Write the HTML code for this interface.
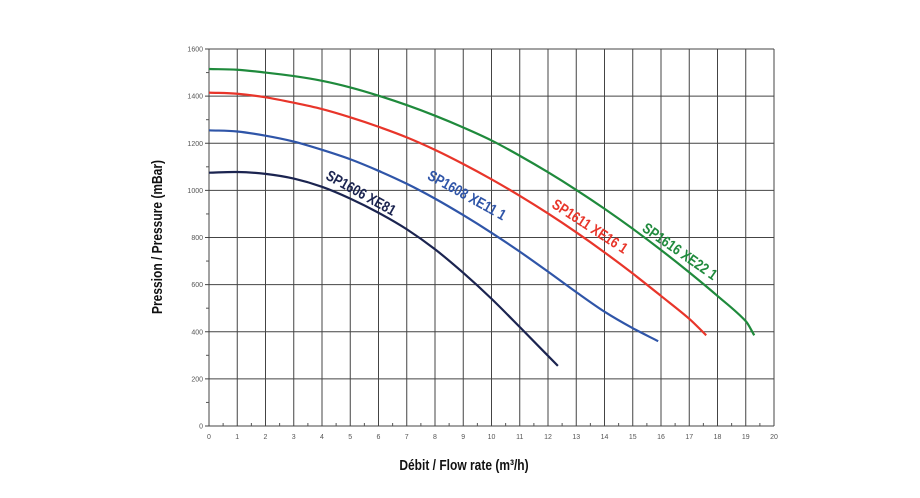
<!DOCTYPE html>
<html><head><meta charset="utf-8"><style>
html,body{margin:0;padding:0;background:#fff;}
svg{display:block;font-family:"Liberation Sans",sans-serif;}
</style></head><body>
<svg id="chart" width="920" height="498">
<g id="grid"></g>
<g id="xaxis"></g>
<g id="yaxis"></g>
<g id="series"></g>
<text x="464" y="470" text-anchor="middle" font-size="15" font-weight="bold" fill="#111" transform="translate(464 0) scale(0.8 1) translate(-464 0)">Débit / Flow rate (m³/h)</text>
<text x="0" y="0" text-anchor="middle" font-size="15" font-weight="bold" fill="#111" transform="translate(162 237) rotate(-90) scale(0.8 1)">Pression / Pressure (mBar)</text>
</svg>
<script>
const xTicks=[0,1,2,3,4,5,6,7,8,9,10,11,12,13,14,15,16,17,18,19,20];
const yTicks=[0,200,400,600,800,1000,1200,1400,1600];
const seriesNames=["SP1606 XE81","SP1608 XE11 1","SP1611 XE16 1","SP1616 XE22 1"];
const seriesColors=["#1b2450","#2f55a8","#e8352a","#1f8a3c"];
const flowBlack=[0,1,2,3,4,5,6,7,8,9,10,11,12.35];
const presBlack=[1075,1078,1070,1050,1015,965,905,835,750,650,540,420,255];
const flowBlue=[0,1,2,3,4,5,6,7,8,9,10,11,12,13,14,15,15.9];
const presBlue=[1255,1250,1232,1207,1172,1132,1083,1028,965,895,820,740,655,568,485,415,360];
const flowRed=[0,1,2,3,4,5,6,7,8,9,10,11,12,13,14,15,16,17,17.6];
const presRed=[1415,1410,1395,1372,1345,1310,1270,1225,1172,1112,1047,977,902,822,737,647,552,455,385];
const flowGreen=[0,1,2,3,4,5,6,7,8,9,10,11,12,13,14,15,16,17,18,19,19.3];
const presGreen=[1515,1512,1500,1485,1465,1437,1402,1362,1317,1267,1212,1147,1077,1002,922,837,747,652,552,445,385];
const labelPos=[[4.1,1050,29],[7.7,1050,29],[12.1,930,33],[15.3,830,35]];
const flows=[flowBlack,flowBlue,flowRed,flowGreen];
const pres=[presBlack,presBlue,presRed,presGreen];
const X0=209,X1=774,Y0=426,Y1=49;
const xs=v=>X0+(v-0)/(20-0)*(X1-X0);
const ys=v=>Y0-(v-0)/(1600-0)*(Y0-Y1);
const NS="http://www.w3.org/2000/svg";
function mk(tag,attrs,parent){const e=document.createElementNS(NS,tag);for(const k in attrs)e.setAttribute(k,attrs[k]);parent.appendChild(e);return e;}
const grid=document.getElementById('grid'),xa=document.getElementById('xaxis'),ya=document.getElementById('yaxis'),sg=document.getElementById('series');
xTicks.forEach(t=>{
 const l=mk('line',{x1:xs(t),x2:xs(t),y1:ys(1600),y2:ys(0),stroke:'#444','stroke-width':1},grid);
 
 
 const tx=mk('text',{x:xs(t),y:ys(0)+13,'text-anchor':'middle','font-size':7,fill:'#555'},xa);
 tx.textContent=t;
 
 
 if(t<20){const m=mk('line',{x1:xs(t+0.5),x2:xs(t+0.5),y1:ys(0),y2:ys(0)-3,stroke:'#555','stroke-width':1},xa);
 
 }
});
yTicks.forEach(t=>{
 const l=mk('line',{x1:xs(0)-4,x2:xs(20),y1:ys(t),y2:ys(t),stroke:'#444','stroke-width':1},grid);
 
 
 const tx=mk('text',{x:xs(0)-6,y:ys(t)+2.5,'text-anchor':'end','font-size':7,fill:'#555'},ya);
 tx.textContent=t;
 
 
 if(t<1600){const m=mk('line',{x1:xs(0)-3,x2:xs(0),y1:ys(t+100),y2:ys(t+100),stroke:'#555','stroke-width':1},ya);
 
 }
});
function smooth(px){
 const n=px.length,m=[];
 for(let i=0;i<n;i++){
  if(i===0)m.push((px[1][1]-px[0][1])/(px[1][0]-px[0][0]));
  else if(i===n-1)m.push((px[n-1][1]-px[n-2][1])/(px[n-1][0]-px[n-2][0]));
  else m.push((px[i+1][1]-px[i-1][1])/(px[i+1][0]-px[i-1][0]));
 }
 let d='M'+px[0][0]+','+px[0][1];
 for(let i=0;i<n-1;i++){const dx=(px[i+1][0]-px[i][0])/3;
  d+=' C'+(px[i][0]+dx)+','+(px[i][1]+m[i]*dx)+' '+(px[i+1][0]-dx)+','+(px[i+1][1]-m[i+1]*dx)+' '+px[i+1][0]+','+px[i+1][1];}
 return d;}
flows.forEach((f,i)=>{
 const px=f.map((v,j)=>[xs(v),ys(pres[i][j])]);
 const p=mk('path',{d:smooth(px),fill:'none',stroke:seriesColors[i],'stroke-width':2.2},sg);
 
 
 const lp=labelPos[i];
 const t=mk('text',{x:0,y:0,'font-size':15,'font-weight':'bold',fill:seriesColors[i],transform:'translate('+xs(lp[0])+' '+ys(lp[1])+') rotate('+lp[2]+') scale(0.82 1)'},sg);
 t.textContent=seriesNames[i];
 
 
});
</script>
</body></html>
